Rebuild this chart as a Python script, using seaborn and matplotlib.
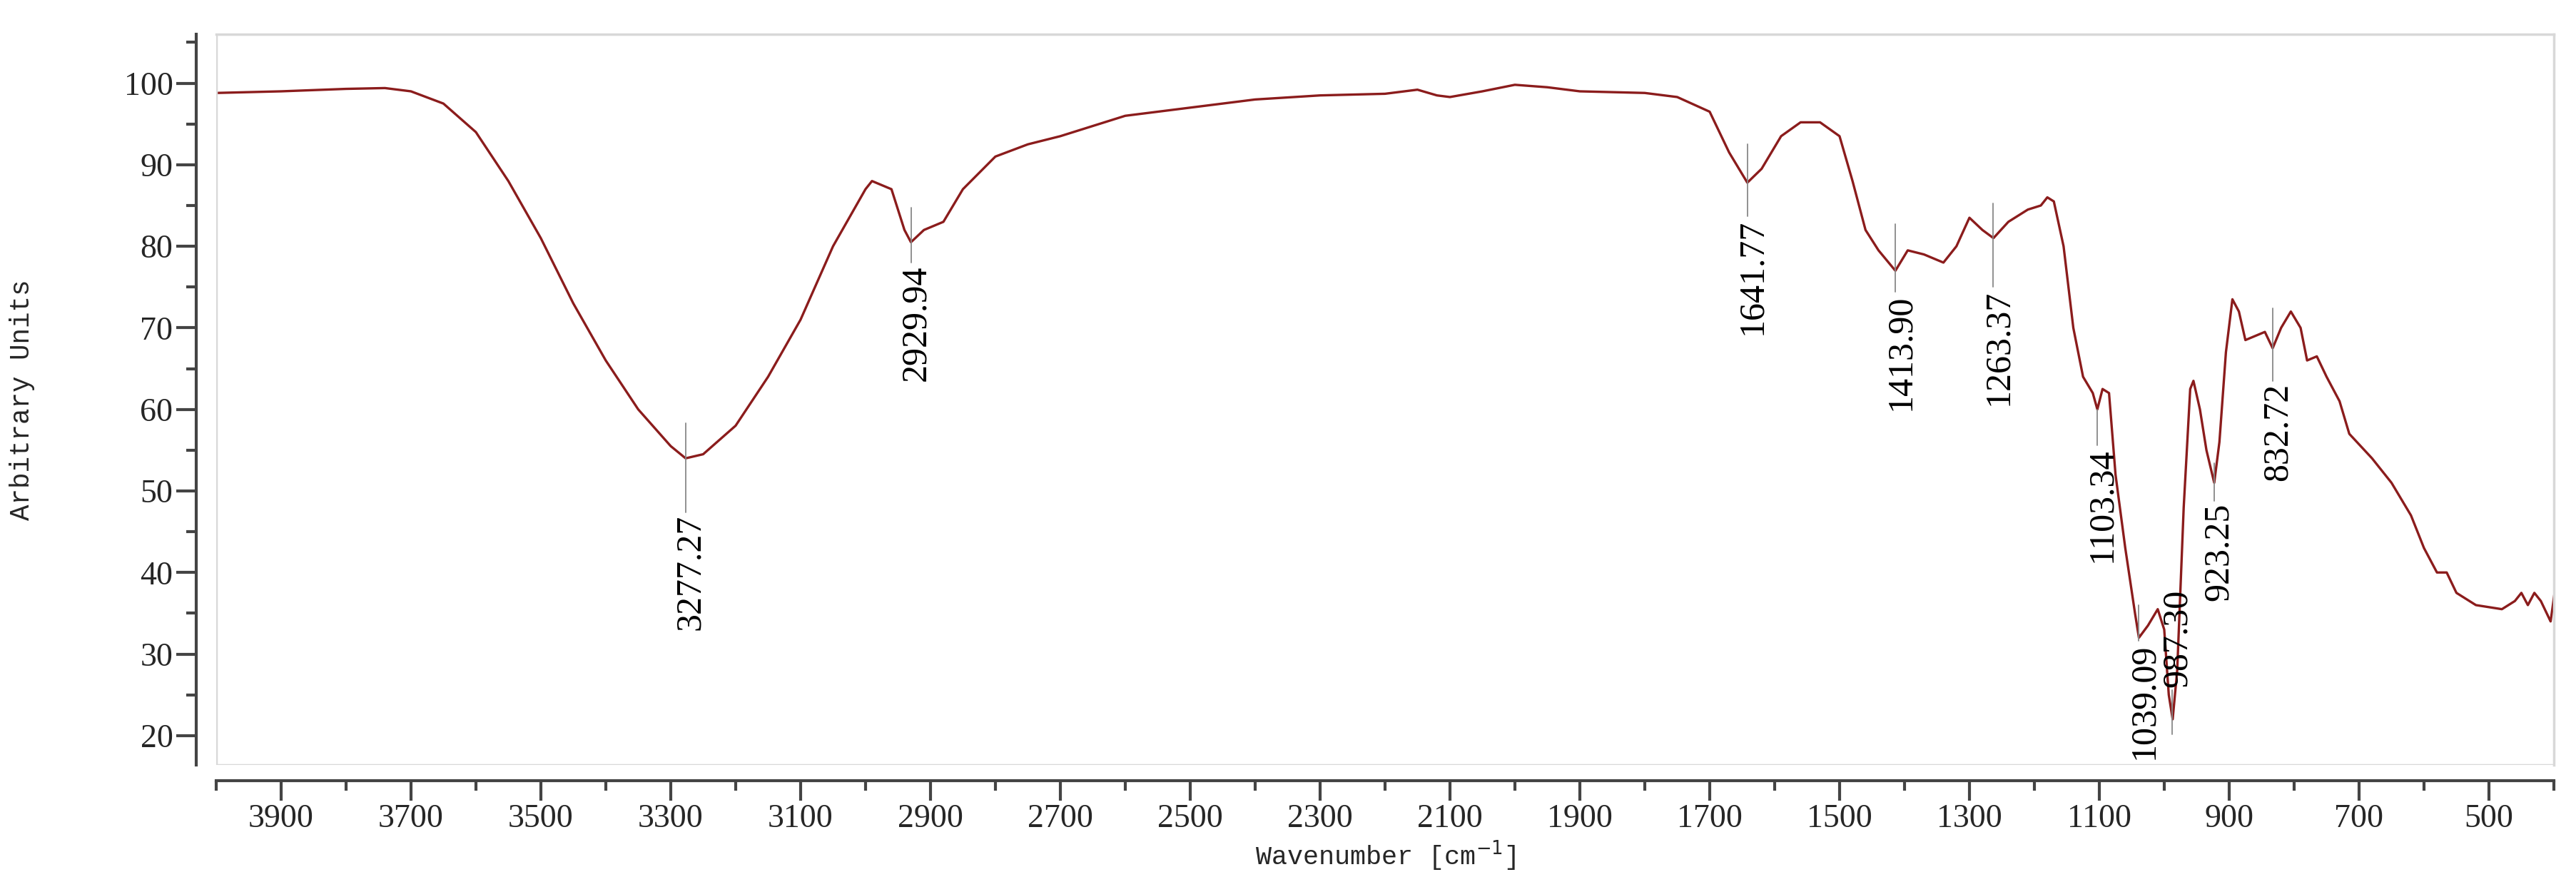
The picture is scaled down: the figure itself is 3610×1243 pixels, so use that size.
import matplotlib
matplotlib.use("Agg")
import matplotlib.pyplot as plt
import seaborn as sns
import pandas as pd
from matplotlib.ticker import MultipleLocator

wavenumber = [4000, 3900, 3800, 3740, 3700, 3650, 3600, 3550, 3500, 3450, 3400, 3350, 3300, 3277, 3250,
              3200, 3150, 3100, 3050, 3000, 2990, 2960, 2940, 2930, 2910, 2880, 2850, 2800, 2750, 2700,
              2600, 2500, 2400, 2300, 2200, 2150, 2120, 2100, 2050, 2000, 1950, 1900, 1800, 1750, 1700,
              1670, 1642, 1620, 1590, 1560, 1530, 1500, 1480, 1460, 1440, 1414, 1395, 1370, 1340, 1320,
              1300, 1280, 1263, 1240, 1210, 1190, 1180, 1170, 1155, 1140, 1125, 1110, 1103, 1095, 1085,
              1075, 1060, 1045, 1039, 1025, 1010, 1000, 993, 987, 980, 970, 960, 955, 945, 935,
              923, 915, 905, 895, 885, 875, 860, 845, 833, 820, 805, 790, 780, 765, 750,
              730, 715, 680, 650, 620, 600, 580, 565, 550, 520, 480, 460, 450, 440, 430,
              420, 405, 398]
absorb = [98.8, 99.0, 99.3, 99.4, 99.0, 97.5, 94.0, 88.0, 81.0, 73.0, 66.0, 60.0, 55.5, 54.0, 54.5,
          58.0, 64.0, 71.0, 80.0, 87.0, 88.0, 87.0, 82.0, 80.5, 82.0, 83.0, 87.0, 91.0, 92.5, 93.5,
          96.0, 97.0, 98.0, 98.5, 98.7, 99.2, 98.5, 98.3, 99.0, 99.8, 99.5, 99.0, 98.8, 98.3, 96.5,
          91.5, 87.8, 89.5, 93.5, 95.2, 95.2, 93.5, 88.0, 82.0, 79.5, 77.0, 79.5, 79.0, 78.0, 80.0,
          83.5, 82.0, 81.0, 83.0, 84.5, 85.0, 86.0, 85.5, 80.0, 70.0, 64.0, 62.0, 60.0, 62.5, 62.0,
          52.0, 43.0, 35.0, 32.0, 33.5, 35.5, 33.0, 25.0, 22.0, 28.0, 48.0, 62.5, 63.5, 60.0, 55.0,
          51.0, 56.0, 67.0, 73.5, 72.0, 68.5, 69.0, 69.5, 67.5, 70.0, 72.0, 70.0, 66.0, 66.5, 64.0,
          61.0, 57.0, 54.0, 51.0, 47.0, 43.0, 40.0, 40.0, 37.5, 36.0, 35.5, 36.5, 37.5, 36.0, 37.5,
          36.5, 34.0, 38.0]

peak_labels = ["3277.27", "2929.94", "1641.77", "1413.90", "1263.37", "1103.34", "1039.09", "987.30", "923.25", "832.72"]
peak_x = [3277.27, 2929.94, 1641.77, 1413.90, 1263.37, 1103.34, 1039.09, 987.30, 923.25, 832.72]
line_lo = [47.4, 78.0, 83.7, 74.4, 75.0, 55.6, 31.6, 20.2, 48.8, 63.5]
line_hi = [58.3, 84.7, 92.5, 82.7, 85.3, 60.0, 36.0, 25.6, 53.4, 72.4]
text_above = [False, False, False, False, False, False, False, True, False, False]

sns.set_style("white")
fig = plt.figure(figsize=(36.1, 12.43), dpi=100)
ax = fig.add_axes([0.0839, 0.1376, 0.9075, 0.8238])
df = pd.DataFrame({"w": wavenumber, "a": absorb})
sns.lineplot(data=df, x="w", y="a", ax=ax, color="#8b1c1c", linewidth=2.4, sort=False, estimator=None)

for lab, x, lo, hi, up in zip(peak_labels, peak_x, line_lo, line_hi, text_above):
    ax.plot([x, x], [lo, hi], color="#888888", linewidth=1.3)
    tx = x - 8
    if up:
        ax.text(tx, hi + 0.3, lab, rotation=90, ha="center", va="bottom",
                fontsize=36, family="Liberation Serif", color="black")
    else:
        ax.text(tx, lo - 0.3, lab, rotation=90, ha="center", va="top",
                fontsize=36, family="Liberation Serif", color="black")

ax.set_xlim(4000, 400)
ax.set_ylim(16.4, 106.0)
ax.xaxis.set_minor_locator(MultipleLocator(100))
ax.set_xticks(list(range(500, 4000, 200)))
ax.yaxis.set_minor_locator(MultipleLocator(5))
ax.set_yticks(list(range(20, 101, 10)))

for s in ["top", "right"]:
    ax.spines[s].set_color("#d8d8d8")
    ax.spines[s].set_linewidth(2.5)
ax.spines["left"].set_position(("outward", 20))
ax.spines["bottom"].set_position(("outward", 16))
for s in ["left", "bottom"]:
    ax.spines[s].set_color("#444444")
    ax.spines[s].set_linewidth(3)
ax.axvline(4000, color="#d8d8d8", linewidth=2.5)
ax.axhline(16.4, color="#d8d8d8", linewidth=2.5)

ax.tick_params(axis="both", which="major", length=20, width=3, color="#444444", direction="out",
               labelsize=33)
ax.tick_params(axis="both", which="minor", length=10, width=3, color="#444444", direction="out")
ax.tick_params(axis="x", which="both", top=False, bottom=True)
ax.tick_params(axis="y", which="both", left=True, right=False)
for t in ax.get_xticklabels() + ax.get_yticklabels():
    t.set_family("Liberation Serif")

ax.set_xlabel("Wavenumber [cm$^{-1}$]", fontsize=26.5, family="Liberation Mono", labelpad=4)
ax.set_ylabel("Arbitrary Units", fontsize=27, family="Liberation Mono", labelpad=90)

fig.savefig("out.png", dpi=100)
